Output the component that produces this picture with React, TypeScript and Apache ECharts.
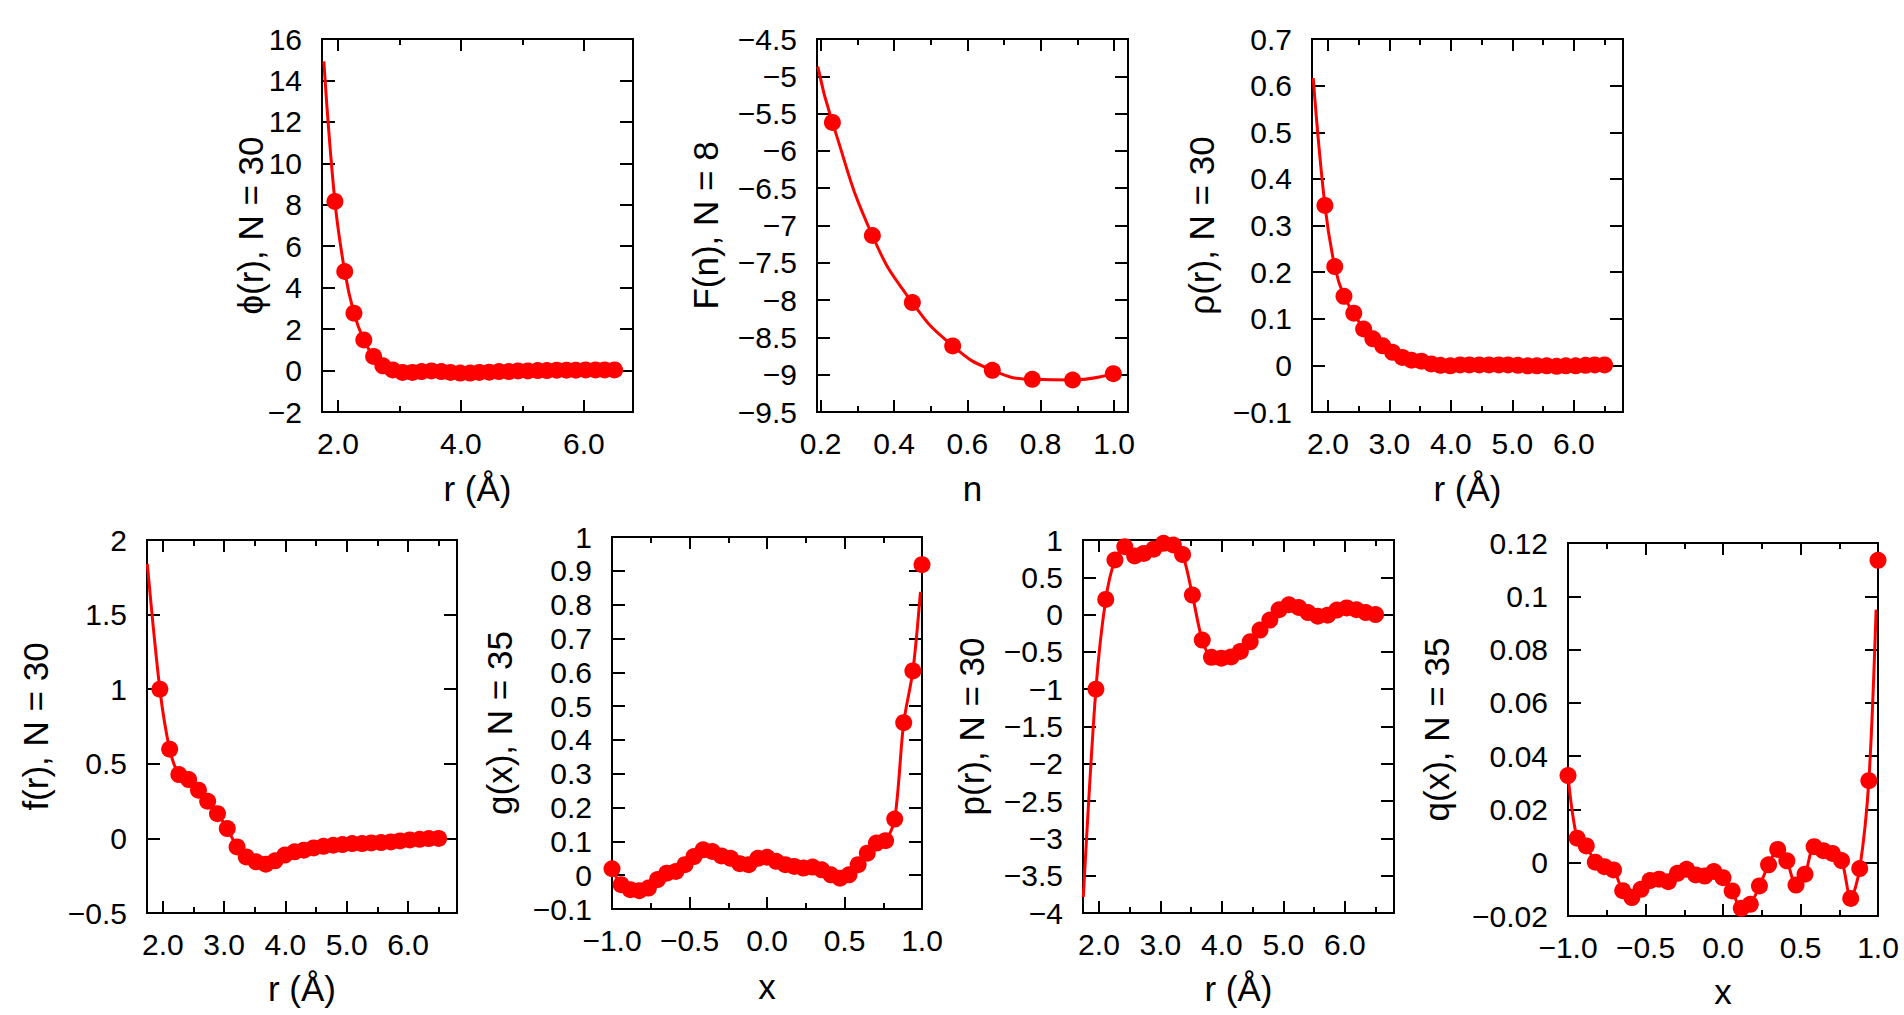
import React, { useEffect, useRef } from "react";
import * as echarts from "echarts";

// ---------- data ----------
const rPts = [1.95, 2.11, 2.26, 2.42, 2.58, 2.73, 2.89, 3.05, 3.21, 3.36, 3.52, 3.68, 3.83, 3.99, 4.15, 4.3, 4.46, 4.62, 4.78, 4.93, 5.09, 5.25, 5.4, 5.56, 5.72, 5.87, 6.03, 6.19, 6.34, 6.5];
const xPts = [-1.0, -0.941, -0.882, -0.824, -0.765, -0.706, -0.647, -0.588, -0.529, -0.471, -0.412, -0.353, -0.294, -0.235, -0.176, -0.118, -0.059, 0.0, 0.059, 0.118, 0.176, 0.235, 0.294, 0.353, 0.412, 0.471, 0.529, 0.588, 0.647, 0.706, 0.765, 0.824, 0.882, 0.941, 1.0];
const nPts = [0.232, 0.341, 0.45, 0.56, 0.668, 0.777, 0.887, 0.998];

const phiVals = [8.16, 4.78, 2.77, 1.48, 0.68, 0.23, 0.03, -0.09, -0.09, -0.05, -0.02, -0.05, -0.09, -0.12, -0.12, -0.09, -0.08, -0.05, -0.05, -0.02, -0.02, 0, 0, 0.02, 0.02, 0.02, 0.03, 0.03, 0.03, 0.03];
const FVals = [-5.618, -7.134, -8.033, -8.614, -8.941, -9.062, -9.071, -8.986];
const rhoVals = [0.343, 0.212, 0.148, 0.112, 0.078, 0.057, 0.042, 0.028, 0.017, 0.011, 0.009, 0.003, 0.0, -0.001, 0.001, 0.001, 0.001, 0.001, 0.001, 0.001, 0.0, -0.001, -0.001, -0.001, -0.002, -0.001, -0.001, 0.0, 0.001, 0.001];
const fVals = [1.0, 0.598, 0.428, 0.394, 0.323, 0.249, 0.166, 0.066, -0.057, -0.124, -0.157, -0.173, -0.15, -0.112, -0.09, -0.079, -0.064, -0.053, -0.046, -0.041, -0.035, -0.035, -0.03, -0.028, -0.024, -0.017, -0.01, -0.006, -0.001, 0.0];
const gVals = [0.019, -0.028, -0.043, -0.046, -0.038, -0.013, 0.006, 0.011, 0.031, 0.055, 0.075, 0.07, 0.057, 0.05, 0.034, 0.031, 0.05, 0.053, 0.041, 0.031, 0.026, 0.021, 0.024, 0.016, 0.001, -0.009, 0.001, 0.031, 0.065, 0.095, 0.102, 0.166, 0.451, 0.604, 0.918];
const pVals = [-1.0, 0.204, 0.732, 0.911, 0.787, 0.82, 0.877, 0.955, 0.933, 0.804, 0.262, -0.342, -0.572, -0.584, -0.567, -0.494, -0.365, -0.208, -0.074, 0.065, 0.132, 0.095, 0.027, -0.022, -0.008, 0.06, 0.09, 0.065, 0.027, 0.0];
const qVals = [0.0327, 0.0092, 0.0063, 0.0002, -0.0015, -0.0027, -0.0105, -0.0131, -0.01, -0.0067, -0.0062, -0.0071, -0.004, -0.0025, -0.0046, -0.005, -0.0033, -0.0056, -0.0106, -0.0171, -0.0156, -0.0087, -0.0008, 0.005, 0.0007, -0.0084, -0.0043, 0.006, 0.0045, 0.0035, 0.0008, -0.0134, -0.0022, 0.0308, 0.1135];

// where the fitted curve starts / ends beyond the sampled points
const phiLineStart = [1.77, 14.92];
const FLineStart = [0.192, -4.87];
const rhoLineStart = [1.76, 0.616];
const fLineStart = [1.745, 1.84];
const gLineEnd = [0.99, 0.838];
const pLineStart = [1.745, -3.785];
const qLineEnd = [0.988, 0.095];

// tick values
const rMajorA = [2, 4, 6];
const rMinorA = [3, 5];
const rMajorB = [2, 3, 4, 5, 6];
const rMinorB = [2.5, 3.5, 4.5, 5.5, 6.5];
const nMajor = [0.2, 0.4, 0.6, 0.8, 1.0];
const nMinor = [0.3, 0.5, 0.7, 0.9];
const xMajor = [-1, -0.5, 0, 0.5, 1];
const xMinor = [-0.75, -0.25, 0.25, 0.75];

// ---------- layout / style ----------
const FONT = "'Liberation Sans', Arial, Helvetica, sans-serif";
const TICK_FS = 30;
const NAME_FS = 35;
const RED = "#ff0000";

type Panel = {
  box: [number, number, number, number];
  xRange: [number, number];
  xMaj: number[];
  xMin: number[];
  yRange: [number, number];
  yStep: number;
  xs: number[];
  ys: number[];
  lineStart?: number[];
  lineEnd?: number[];
  dropLast?: boolean;
  smooth: number;
  yName: string;
  xName: string;
  yNameX: number;
  xNameY: number;
};

const panels: Panel[] = [
  { box: [322, 39, 311, 373], xRange: [1.74, 6.8], xMaj: rMajorA, xMin: rMinorA, yRange: [-2, 16], yStep: 2, xs: rPts, ys: phiVals, lineStart: phiLineStart, smooth: 0.4, yName: "ϕ(r), N = 30", xName: "r (Å)", yNameX: 250, xNameY: 488 },
  { box: [817, 39, 311, 373], xRange: [0.19, 1.038], xMaj: nMajor, xMin: nMinor, yRange: [-9.5, -4.5], yStep: 0.5, xs: nPts, ys: FVals, lineStart: FLineStart, smooth: 0.5, yName: "F(n), N = 8", xName: "n", yNameX: 705, xNameY: 488 },
  { box: [1312, 39, 311, 373], xRange: [1.74, 6.8], xMaj: rMajorB, xMin: rMinorB, yRange: [-0.1, 0.7], yStep: 0.1, xs: rPts, ys: rhoVals, lineStart: rhoLineStart, smooth: 0.4, yName: "ρ(r), N = 30", xName: "r (Å)", yNameX: 1201, xNameY: 488 },
  { box: [147, 540, 310, 373], xRange: [1.74, 6.8], xMaj: rMajorB, xMin: rMinorB, yRange: [-0.5, 2], yStep: 0.5, xs: rPts, ys: fVals, lineStart: fLineStart, smooth: 0.3, yName: "f(r), N = 30", xName: "r (Å)", yNameX: 35, xNameY: 988 },
  { box: [612, 537, 310, 372], xRange: [-1, 1], xMaj: xMajor, xMin: xMinor, yRange: [-0.1, 1], yStep: 0.1, xs: xPts, ys: gVals, lineEnd: gLineEnd, dropLast: true, smooth: 0.3, yName: "g(x), N = 35", xName: "x", yNameX: 499, xNameY: 986 },
  { box: [1083, 540, 311, 373], xRange: [1.74, 6.8], xMaj: rMajorB, xMin: rMinorB, yRange: [-4, 1], yStep: 0.5, xs: rPts, ys: pVals, lineStart: pLineStart, smooth: 0.3, yName: "p(r), N = 30", xName: "r (Å)", yNameX: 971, xNameY: 988 },
  { box: [1568, 543, 310, 373], xRange: [-1, 1], xMaj: xMajor, xMin: xMinor, yRange: [-0.02, 0.12], yStep: 0.02, xs: xPts, ys: qVals, lineEnd: qLineEnd, dropLast: true, smooth: 0.3, yName: "q(x), N = 35", xName: "x", yNameX: 1436, xNameY: 991 },
];

const minus = (s: string) => s.replace("-", "\u2212");
const fmtX = (v: number) => minus((Math.abs(v) < 1e-9 ? 0 : v).toFixed(1));
const fmtY = (v: number) => minus(String(v));

function buildOption() {
  const grid: any[] = [];
  const xAxis: any[] = [];
  const yAxis: any[] = [];
  const series: any[] = [];
  const graphic: any[] = [];
  const tickLine = { color: "#000", width: 2 };
  const labelStyle = { fontFamily: FONT, fontSize: TICK_FS, color: "#000" };
  const noLine = { show: false, onZero: false };

  panels.forEach((p, i) => {
    const [left, top, width, height] = p.box;
    grid.push({
      left, top, width, height,
      show: true, borderColor: "#000", borderWidth: 2, backgroundColor: "transparent",
      containLabel: false, outerBoundsMode: "none",
    });
    const xc = {
      type: "value", gridIndex: i, min: p.xRange[0], max: p.xRange[1],
      splitLine: { show: false }, axisLine: noLine,
    };
    const xBase = xAxis.length;
    xAxis.push({
      ...xc, position: "bottom",
      axisTick: { show: true, inside: true, length: 12, customValues: p.xMaj, lineStyle: tickLine },
      axisLabel: { show: true, customValues: p.xMaj, formatter: fmtX, margin: 16, ...labelStyle },
    });
    xAxis.push({
      ...xc, position: "bottom",
      axisTick: { show: true, inside: true, length: 6, customValues: p.xMin, lineStyle: tickLine },
      axisLabel: { show: false },
    });
    xAxis.push({
      ...xc, position: "top",
      axisTick: { show: true, inside: true, length: 12, customValues: p.xMaj, lineStyle: tickLine },
      axisLabel: { show: false },
    });
    xAxis.push({
      ...xc, position: "top",
      axisTick: { show: true, inside: true, length: 6, customValues: p.xMin, lineStyle: tickLine },
      axisLabel: { show: false },
    });
    const yc = {
      type: "value", gridIndex: i, min: p.yRange[0], max: p.yRange[1], interval: p.yStep,
      splitLine: { show: false }, axisLine: noLine,
    };
    const yBase = yAxis.length;
    yAxis.push({
      ...yc, position: "left",
      axisTick: { show: true, inside: true, length: 13, lineStyle: tickLine },
      axisLabel: { show: true, formatter: fmtY, margin: 20, ...labelStyle },
    });
    yAxis.push({
      ...yc, position: "right",
      axisTick: { show: true, inside: true, length: 13, lineStyle: tickLine },
      axisLabel: { show: false },
    });

    const pts = p.xs.map((x, k) => [x, p.ys[k]]);
    const linePts = (p.dropLast ? pts.slice(0, -1) : pts.slice());
    if (p.lineStart) linePts.unshift(p.lineStart);
    if (p.lineEnd) linePts.push(p.lineEnd);

    series.push({
      type: "line", xAxisIndex: xBase, yAxisIndex: yBase, data: linePts,
      symbol: "none", showSymbol: false, smooth: p.smooth, clip: false, silent: true,
      lineStyle: { color: RED, width: 3, opacity: 1 }, z: 2,
    });
    series.push({
      type: "scatter", xAxisIndex: xBase, yAxisIndex: yBase, data: pts,
      symbol: "circle", symbolSize: 17, itemStyle: { color: RED, opacity: 1 }, clip: false, z: 3,
    });

    graphic.push({
      type: "text", x: p.yNameX, y: top + height / 2, rotation: Math.PI / 2,
      style: {
        text: p.yName, font: `${NAME_FS}px ${FONT}`, fill: "#000",
        align: "center", verticalAlign: "middle", textAlign: "center", textVerticalAlign: "middle",
      },
    });
    graphic.push({
      type: "text", x: left + width / 2, y: p.xNameY,
      style: {
        text: p.xName, font: `${NAME_FS}px ${FONT}`, fill: "#000",
        align: "center", verticalAlign: "middle", textAlign: "center", textVerticalAlign: "middle",
      },
    });
  });

  return {
    animation: false,
    backgroundColor: "#ffffff",
    grid, xAxis, yAxis, series, graphic,
  };
}

export default function App() {
  const ref = useRef<HTMLDivElement>(null);
  useEffect(() => {
    document.body.style.margin = "0";
    if (!ref.current) return;
    const chart = echarts.init(ref.current, undefined, { renderer: "svg" });
    chart.setOption(buildOption() as any);
    return () => chart.dispose();
  }, []);
  return <div ref={ref} style={{ width: 1904, height: 1015 }} />;
}
